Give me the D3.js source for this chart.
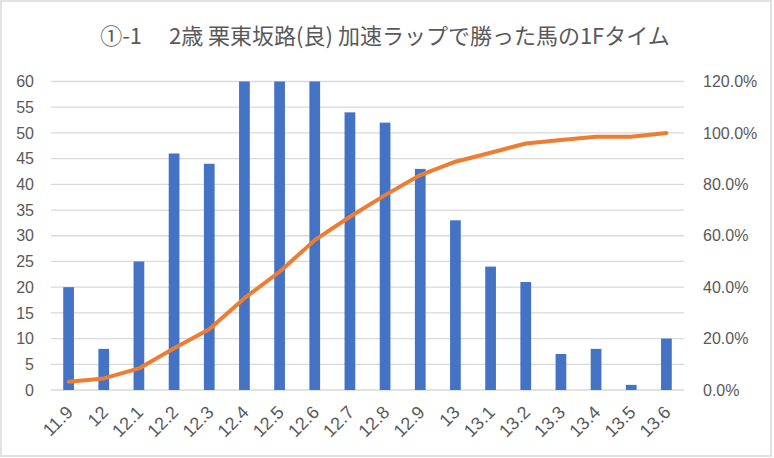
<!DOCTYPE html>
<html>
<head>
<meta charset="utf-8">
<script src="https://cdn.jsdelivr.net/npm/d3@7"></script>
<style>
	html, body { margin: 0; padding: 0; background: #fff; }
	svg { display: block; }
	text { font-family: "Liberation Sans", "Noto Sans", sans-serif; fill: #595959; }
</style>
</head>
<body>
<div id="chart"></div>
<script>
const title = '①-1\u3000 2歳 栗東坂路(良) 加速ラップで勝った馬の1Fタイム'

const categories = ['11.9', '12', '12.1', '12.2', '12.3', '12.4', '12.5', '12.6', '12.7',
	'12.8', '12.9', '13', '13.1', '13.2', '13.3', '13.4', '13.5', '13.6']

// counts (12.4-12.6 run off the top of the axis, estimated)
const counts = [20, 8, 25, 46, 44, 75, 64, 76, 54, 52, 43, 33, 24, 21, 7, 8, 1, 10]

// cumulative share
const cumulative = [0.032, 0.045, 0.084, 0.162, 0.236, 0.357, 0.46, 0.583, 0.674,
	0.758, 0.836, 0.888, 0.923, 0.959, 0.972, 0.985, 0.985, 1.0]

const leftTicks = d3.range(0, 61, 5)
const rightTicks = [0, 0.2, 0.4, 0.6, 0.8, 1.0, 1.2]

const w = 774, h = 458
const plot = { left: 51, right: 684, top: 81.5, bottom: 390 }

const $svg = d3.select('#chart').append('svg')
	.attr('width', w)
	.attr('height', h)

$svg.append('rect')
	.attr('x', 1).attr('y', 1)
	.attr('width', 770).attr('height', 455)
	.attr('fill', '#fff')
	.attr('stroke', '#d9d9d9')
	.attr('stroke-width', 1.5)

let x = d3.scaleBand()
	.domain(categories)
	.range([plot.left, plot.right])
	.paddingInner(0.695)
	.paddingOuter(0.3475)

let y = d3.scaleLinear()
	.domain([0, 60])
	.range([plot.bottom, plot.top])
	.clamp(true)

let y2 = d3.scaleLinear()
	.domain([0, 1.2])
	.range([plot.bottom, plot.top])

// grid

$svg.append('g')
	.selectAll('line')
	.data(leftTicks)
	.enter()
	.append('line')
	.attr('x1', plot.left)
	.attr('x2', plot.right)
	.attr('y1', d => y(d))
	.attr('y2', d => y(d))
	.attr('stroke', '#d9d9d9')
	.attr('stroke-width', 1.3)

// bars

$svg.append('g')
	.selectAll('rect')
	.data(counts)
	.enter()
	.append('rect')
	.attr('x', (d, i) => x(categories[i]))
	.attr('width', x.bandwidth())
	.attr('y', d => y(d))
	.attr('height', d => y(0) - y(d))
	.attr('fill', '#4472c4')

// cumulative line

const line = d3.line()
	.x((d, i) => x(categories[i]) + x.bandwidth() / 2)
	.y(d => y2(d))

$svg.append('path')
	.datum(cumulative)
	.attr('d', line)
	.attr('fill', 'none')
	.attr('stroke', '#ed7d31')
	.attr('stroke-width', 4)
	.attr('stroke-linecap', 'round')
	.attr('stroke-linejoin', 'round')

// axes

const $left = d3.axisLeft(y).tickValues(leftTicks).tickSize(0).tickPadding(17)
$svg.append('g')
	.attr('transform', `translate(${plot.left}, 0)`)
	.call($left)
	.call(g => g.select('.domain').remove())
	.selectAll('text')
	.style('font-size', '16px')
	.attr('fill', '#595959')

const $right = d3.axisRight(y2).tickValues(rightTicks).tickSize(0).tickPadding(19)
	.tickFormat(d3.format('.1%'))
$svg.append('g')
	.attr('transform', `translate(${plot.right}, 0)`)
	.call($right)
	.call(g => g.select('.domain').remove())
	.selectAll('text')
	.style('font-size', '16px')
	.attr('fill', '#595959')

$svg.append('g')
	.selectAll('text')
	.data(categories)
	.enter()
	.append('text')
	.attr('transform', d => `translate(${x(d) + x.bandwidth() / 2 + 1}, 409) rotate(-45)`)
	.attr('text-anchor', 'end')
	.attr('dy', '0.35em')
	.style('font-size', '18px')
	.text(d => d)

// title

$svg.append('text')
	.attr('x', 385)
	.attr('y', 44)
	.attr('text-anchor', 'middle')
	.style('font-family', '"Noto Sans CJK JP", sans-serif')
	.style('font-size', '22px')
	.style('white-space', 'pre')
	.text(title)
</script>
</body>
</html>
